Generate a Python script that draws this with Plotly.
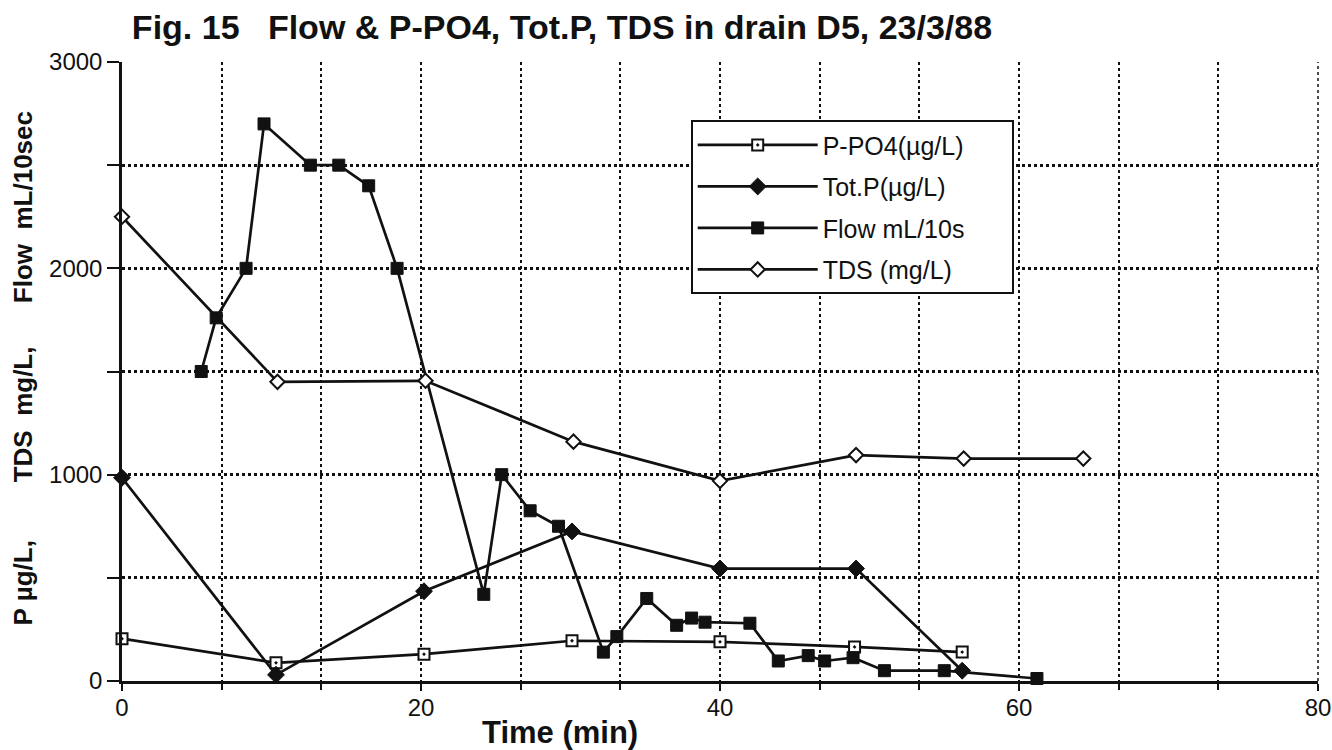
import plotly.graph_objects as go

# ---- data ----
ppo4_t = [0, 10.3, 20.2, 30.1, 40.0, 49.0, 56.2]
ppo4_v = [205, 88, 130, 195, 190, 165, 140]

totp_t = [0, 10.3, 20.2, 30.1, 40.0, 49.1, 56.2]
totp_v = [985, 30, 435, 725, 545, 545, 50]

flow_t = [5.3, 6.3, 8.3, 9.5, 12.6, 14.5, 16.5, 18.4, 24.2, 25.4, 27.3, 29.2,
          32.2, 33.1, 35.1, 37.1, 38.1, 39.0, 42.0, 43.9, 45.9, 47.0, 48.9,
          51.0, 55.0, 61.2]
flow_v = [1500, 1760, 2000, 2700, 2500, 2500, 2400, 2000, 420, 1000, 825, 750,
          140, 215, 400, 270, 305, 285, 280, 97, 123, 97, 113,
          50, 50, 12]

tds_t = [0, 10.4, 20.3, 30.2, 40.0, 49.1, 56.3, 64.3]
tds_v = [2250, 1450, 1455, 1160, 970, 1095, 1078, 1078]

series_names = ["P-PO4(\u00b5g/L)", "Tot.P(\u00b5g/L)", "Flow mL/10s", "TDS (mg/L)"]
x_tickvals = [0, 20, 40, 60, 80]
y_tickvals = [0, 1000, 2000, 3000]

title_text = "Fig. 15\u00a0\u00a0\u00a0Flow & P-PO4, Tot.P, TDS in drain D5, 23/3/88"
x_title = "Time (min)"
y_title = ("P \u00b5g/L," + "\u00a0" * 8 + "TDS\u00a0\u00a0mg/L," + "\u00a0" * 6
           + "Flow\u00a0\u00a0mL/10sec")

FONT = "Liberation Sans, Arial, Helvetica, sans-serif"
BLACK = "#111111"
PAD = "\u00a0" * 6  # right padding inside the legend box

fig = go.Figure()

fig.add_trace(go.Scatter(
    x=ppo4_t, y=ppo4_v, name=series_names[0] + PAD, mode="lines+markers",
    legendgroup="a", cliponaxis=False,
    line=dict(color=BLACK, width=2.7),
    marker=dict(symbol="square-dot", size=11, color="white",
                line=dict(color=BLACK, width=2)),
))
fig.add_trace(go.Scatter(
    x=totp_t, y=totp_v, name=series_names[1] + PAD, mode="lines+markers",
    legendgroup="b", cliponaxis=False,
    line=dict(color=BLACK, width=2.7),
    marker=dict(symbol="diamond", size=13, color=BLACK,
                line=dict(color=BLACK, width=1)),
))
fig.add_trace(go.Scatter(
    x=flow_t, y=flow_v, name=series_names[2] + PAD, mode="lines+markers",
    legendgroup="c", cliponaxis=False,
    line=dict(color=BLACK, width=2.7),
    marker=dict(symbol="square", size=12, color=BLACK,
                line=dict(color=BLACK, width=1)),
))
fig.add_trace(go.Scatter(
    x=tds_t, y=tds_v, name=series_names[3] + PAD, mode="lines+markers",
    legendgroup="d", cliponaxis=False,
    line=dict(color=BLACK, width=2.7),
    marker=dict(symbol="diamond", size=11, color="white",
                line=dict(color=BLACK, width=2)),
))

fig.update_layout(
    width=1332, height=750,
    margin=dict(l=122, r=14, t=62, b=69, autoexpand=False),
    paper_bgcolor="white", plot_bgcolor="white",
    font=dict(family=FONT, size=24, color=BLACK),
    showlegend=True,
    legend=dict(
        x=0.4755, y=0.906, xanchor="left", yanchor="top",
        bgcolor="white", bordercolor=BLACK, borderwidth=2,
        font=dict(family=FONT, size=25, color=BLACK),
        itemwidth=120, tracegroupgap=6,
    ),
    title=dict(
        text="<b>" + title_text + "</b>",
        x=0.099, xanchor="left", y=0.964, yanchor="middle",
        font=dict(family=FONT, size=34, color=BLACK),
    ),
    shapes=[dict(type="line", xref="paper", yref="paper", x0=1, x1=1, y0=0, y1=1,
                 line=dict(color=BLACK, width=1.5, dash="dot"), layer="below")],
)

fig.update_xaxes(
    range=[0, 80], tickvals=x_tickvals, ticktext=[str(v) for v in x_tickvals],
    automargin=False,
    showline=True, linecolor=BLACK, linewidth=3, mirror=False,
    ticks="outside", ticklen=7, tickwidth=2, tickcolor=BLACK,
    ticklabelstandoff=-4,
    showgrid=True, gridcolor=BLACK, gridwidth=1.5, griddash="dot",
    zeroline=False,
    tickfont=dict(family=FONT, size=24, color=BLACK),
    minor=dict(dtick=20 / 3, tick0=0, showgrid=True, gridcolor=BLACK,
               gridwidth=1.5, griddash="dot", ticks="outside", ticklen=6,
               tickcolor=BLACK, tickwidth=2),
)
fig.update_yaxes(
    range=[0, 3000], tickvals=y_tickvals, ticktext=[str(v) for v in y_tickvals],
    automargin=False,
    showline=True, linecolor=BLACK, linewidth=2.5, mirror=False,
    ticks="outside", ticklen=12, tickwidth=2, tickcolor=BLACK,
    showgrid=True, gridcolor=BLACK, gridwidth=2.5, griddash="dot",
    zeroline=False,
    tickfont=dict(family=FONT, size=24, color=BLACK),
    minor=dict(dtick=500, tick0=0, showgrid=True, gridcolor=BLACK,
               gridwidth=2.5, griddash="dot", ticks="outside", ticklen=12,
               tickcolor=BLACK, tickwidth=2),
)

fig.add_annotation(
    text="<b>" + x_title + "</b>", xref="paper", yref="paper",
    x=0.366, y=-0.084, xanchor="center", yanchor="middle", showarrow=False,
    font=dict(family=FONT, size=31, color=BLACK),
)
fig.add_annotation(
    text="<b>" + y_title + "</b>", xref="paper", yref="paper",
    x=-0.0828, y=0.505, xanchor="center", yanchor="middle", showarrow=False,
    textangle=-90, font=dict(family=FONT, size=26, color=BLACK),
)

fig.write_html("out.html")
